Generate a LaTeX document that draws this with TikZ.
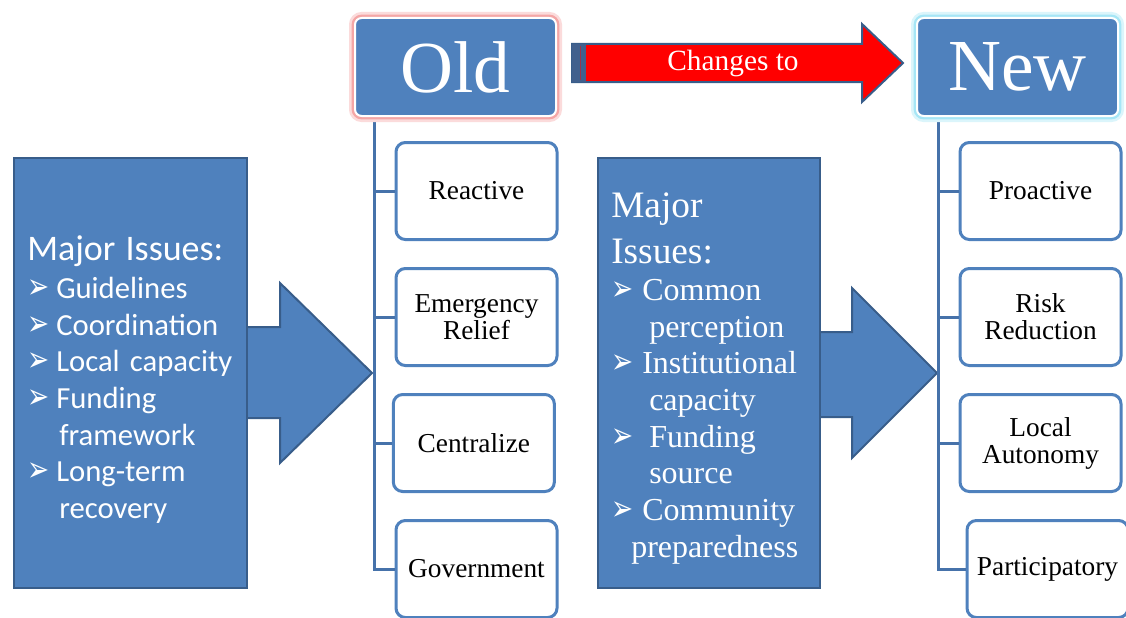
\documentclass[tikz,border=0pt]{standalone}
\usepackage{fontspec}
\setmainfont{Liberation Serif}
\newfontfamily\issuefont{Carlito}
\newfontfamily\symbolfont{DejaVu Sans}
\usetikzlibrary{positioning}

\definecolor{boxblue}{HTML}{4F81BD}
\definecolor{rimblue}{HTML}{385D8A}
\definecolor{linkblue}{HTML}{4672AA}
\definecolor{stripblue}{HTML}{41608D}
\definecolor{glowred}{HTML}{F4A6A6}
\definecolor{glowcyan}{HTML}{A6E6F6}

% arrowhead bullet, fixed width so the item text lines up
\newcommand{\pointer}[1]{\makebox[#1][l]{\symbolfont\fontsize{22}{22}\selectfont\scalebox{.9}[1.2]{➢}}}

\begin{document}
\begin{tikzpicture}[x=0.75pt, y=-0.75pt,
  bigarrow/.style={draw=rimblue, fill=boxblue, line width=1.5pt, line join=miter},
  bigbox/.style={draw=rimblue, fill=boxblue, line width=1.5pt, minimum height=322.5pt},
  issues/.style={text=white, align=left, inner sep=0pt},
  headbox/.style={fill=boxblue, draw=white, line width=1.5pt, rounded corners=5pt,
    minimum width=150.75pt, minimum height=73.5pt, text=white,
    font=\fontsize{55}{55}\selectfont},
  leaf/.style={draw=boxblue, fill=white, line width=2.25pt, rounded corners=7pt,
    minimum width=120.75pt, minimum height=72.75pt, align=center,
    font=\fontsize{20.5}{20.25}\selectfont},
  link/.style={draw=linkblue, line width=2.25pt}]

\useasboundingbox (0,0) rectangle (1126,617);

% block arrows behind the issue boxes
\draw[bigarrow] (230,327) -- (280,327) -- (280,283) -- (372,373)
  -- (280,463) -- (280,418) -- (230,418) -- cycle;
\draw[bigarrow] (800,332) -- (852,332) -- (852,288) -- (937,373)
  -- (852,458) -- (852,417) -- (800,417) -- cycle;

% issue boxes
\node[bigbox, minimum width=174.75pt] (oldissues) at (130.5,373) {};
\node[bigbox, minimum width=166.5pt] (newissues) at (709,373) {};

\node[issues, anchor=west, text width=200pt,
  font=\issuefont\fontsize{23}{27.5}\selectfont]
  (oldlist) at ([xshift=10.5pt, yshift=-5pt]oldissues.west)
  {{\fontsize{27}{27.5}\selectfont Major Issues:}\\[1pt]
   \pointer{21.75pt}Guidelines\\
   \pointer{21.75pt}Coordination\\
   \pointer{21.75pt}Local capacity\\
   \pointer{21.75pt}Funding\\
   \hspace*{24pt}framework\\
   \pointer{21.75pt}Long-term\\
   \hspace*{24pt}recovery};

\node[issues, anchor=west, text width=170pt,
  font=\fontsize{24}{27.5}\selectfont]
  (newlist) at ([xshift=10.5pt, yshift=-4pt]newissues.west)
  {{\fontsize{28}{27.5}\selectfont Major\\[7.5pt] Issues:}\\
   \pointer{23.25pt}Common\\
   \hspace*{28.5pt}perception\\
   \pointer{23.25pt}Institutional\\
   \hspace*{28.5pt}capacity\\
   \pointer{23.25pt}\hspace{5.25pt}Funding\\
   \hspace*{28.5pt}source\\
   \pointer{23.25pt}Community\\
   \hspace*{15pt}preparedness};

% old way
\node[leaf] (reactive) at (476.5,191) {Reactive};
\node[leaf, below=19.5pt of reactive] (relief) {Emergency\\Relief};
\node[leaf, below=19.5pt of relief, xshift=-2pt] (central) {Centralize};
\node[leaf, below=19.5pt of central, xshift=2pt] (govt) {Government};

% new way
\node[leaf] (proactive) at (1040.5,191) {Proactive};
\node[leaf, below=19.5pt of proactive] (risk) {Risk\\Reduction};
\node[leaf, below=19.5pt of risk] (autonomy) {Local\\Autonomy};
\node[leaf, below=19.5pt of autonomy, xshift=5.25pt] (particip) {Participatory};

% trunks and branches
\coordinate (oldroot) at (374,116);
\coordinate (newroot) at (938,116);
\draw[link] (oldroot) |- (govt.west);
\draw[link] (newroot) |- (particip.west);
\foreach \twig in {reactive, relief, central}
  \draw[link] (oldroot |- \twig.west) -- (\twig.west);
\foreach \twig in {proactive, risk, autonomy}
  \draw[link] (newroot |- \twig.west) -- (\twig.west);

% headings with their glow
\node[headbox, preaction={draw=glowred!40, line width=9pt},
  preaction={draw=glowred, line width=5pt}] (old) at (455.5,67) {Old};
\node[headbox, preaction={draw=glowcyan!40, line width=9pt},
  preaction={draw=glowcyan, line width=5pt}] (new) at (1017.5,67) {New};

% red arrow between the headings
\filldraw[fill=red, draw=rimblue, line width=1.5pt, line join=miter]
  (572,44) -- (862,44) -- (862,24) -- (903,63) -- (862,102)
  -- (862,82) -- (572,82) -- cycle;
\fill[stripblue] (572,44) rectangle (586,82);
\draw[red!45!stripblue, line width=.75pt] (580,46) -- (580,80);
\node[text=white, font=\fontsize{22}{22}\selectfont] (change) at (733,63) {Changes to};

\end{tikzpicture}
\end{document}
